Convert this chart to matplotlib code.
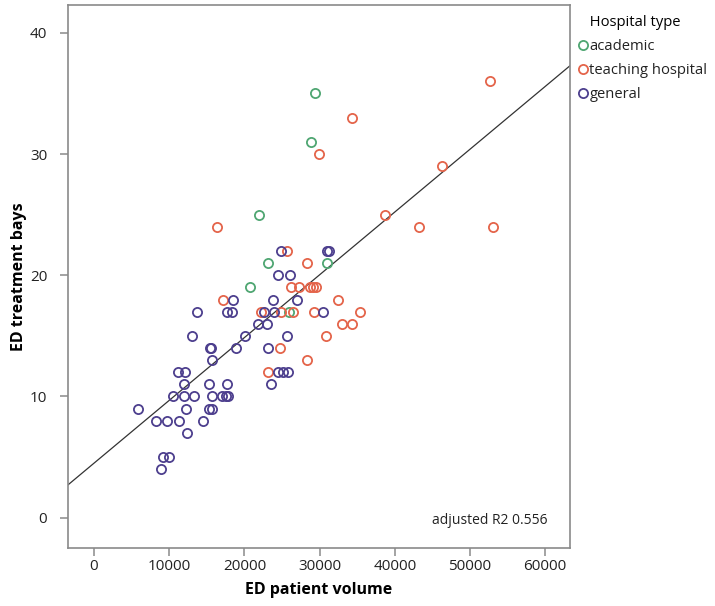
import matplotlib
matplotlib.use("Agg")
import matplotlib.pyplot as plt
import numpy as np

plt.rcParams['font.family'] = ['Open Sans', 'DejaVu Sans']

# ---- data ----
academic_x = [20750, 22000, 23100, 25950, 28800, 29400, 30950]
academic_y = [19, 25, 21, 17, 31, 35, 21]

teaching_x = [16350, 17100, 22250, 24800, 26400, 29300, 35400, 32500, 33000, 34250,
              30850, 28350, 24750, 23200, 26150, 27300, 28700, 29100, 29500, 25700,
              28350, 29950, 34350, 38700, 43200, 46250, 52600, 53050]
teaching_y = [24, 18, 17, 17, 17, 17, 17, 18, 16, 16,
              15, 13, 14, 12, 19, 19, 19, 19, 19, 22,
              21, 30, 33, 25, 24, 29, 36, 24]

general_x = [5900, 8250, 9650, 11350, 14450, 12300, 9200, 9950, 8850,
             10550, 12000, 13300, 15700, 17050, 17550, 17850,
             12250, 15350, 15700,
             12000, 15300, 17700, 23600,
             11200, 12100, 24500, 25100, 25850,
             15650,
             15400, 15500, 18850, 23100,
             13000, 20100, 25600,
             21750, 22950,
             13650, 17700, 18300, 22600, 23950, 30500,
             18500, 23850, 27050,
             24500, 26050,
             24900, 31000, 31300]
general_y = [9, 8, 8, 8, 8, 7, 5, 5, 4,
             10, 10, 10, 10, 10, 10, 10,
             9, 9, 9,
             11, 11, 11, 11,
             12, 12, 12, 12, 12,
             13,
             14, 14, 14, 14,
             15, 15, 15,
             16, 16,
             17, 17, 17, 17, 17, 17,
             18, 18, 18,
             20, 20,
             22, 22, 22]

fit_intercept = 4.5
fit_slope = 5.18e-4
r2_text = "adjusted R2 0.556"

x_ticks = [0, 10000, 20000, 30000, 40000, 50000, 60000]
y_ticks = [0, 10, 20, 30, 40]

c_acad = '#4fa672'
c_teach = '#e4644a'
c_gen = '#4d3f8e'
grey = '#8a8a8a'

fig = plt.figure(figsize=(7.15, 6.06), dpi=100)
ax = fig.add_axes([68/715, 1-548/606, (570-68)/715, (548-5)/606])

xmin, xmax = -3460, 63300
ymin, ymax = -2.5, 42.3
ax.set_xlim(xmin, xmax)
ax.set_ylim(ymin, ymax)

mk = dict(marker='o', linestyle='none', markersize=6.6, markerfacecolor='none',
          markeredgewidth=1.3)
ax.plot(academic_x, academic_y, color=c_acad, label='academic', **mk)
ax.plot(teaching_x, teaching_y, color=c_teach, label='teaching hospital', **mk)
ax.plot(general_x, general_y, color=c_gen, label='general', **mk)

lx = np.array([xmin, xmax])
ax.plot(lx, fit_intercept + fit_slope * lx, color='#333333', lw=0.9, zorder=1)

ax.text(0.955, 0.05, r2_text, transform=ax.transAxes, ha='right', va='center',
        fontsize=10, color='#222222')

for s in ax.spines.values():
    s.set_color(grey)
    s.set_linewidth(1.2)
ax.set_xticks(x_ticks)
ax.set_yticks(y_ticks)
ax.tick_params(axis='both', direction='out', length=6, width=1.1, color=grey,
               labelsize=11, labelcolor='#222222')
ax.tick_params(axis='x', pad=2)
ax.tick_params(axis='y', pad=9)
ax.set_xlabel('ED patient volume', fontsize=11.5, fontweight='bold', labelpad=6)
ax.set_ylabel('ED treatment bays', fontsize=11.5, fontweight='bold', labelpad=2)

leg = fig.legend(loc='upper left', bbox_to_anchor=(568/715, 1-5/606), frameon=False,
                 title='   Hospital type', fontsize=10.6, title_fontsize=10.6,
                 handlelength=0.6, handletextpad=0.15, labelspacing=0.6,
                 borderpad=0.2)
leg._legend_box.align = 'left'
for t in leg.get_texts():
    t.set_color('#222222')

fig.savefig('out.png', dpi=100)
